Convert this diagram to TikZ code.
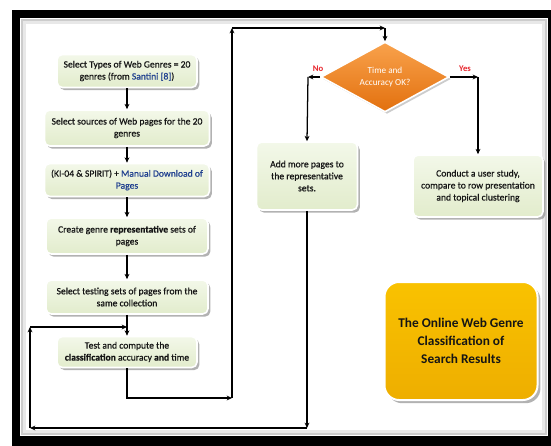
\documentclass[tikz,border=0pt]{standalone}
\usepackage{fontspec}
\setmainfont{Carlito}
\newfontfamily\semib{Carlito}[FakeBold=0.6]
\usetikzlibrary{shapes.geometric,shadows,arrows.meta}
\definecolor{gtop}{HTML}{F3F8E9}
\definecolor{gbot}{HTML}{E2ECCC}
\definecolor{txt}{HTML}{151515}
\definecolor{navy}{HTML}{1F3F8F}
\definecolor{otop}{HTML}{F9A24C}
\definecolor{obot}{HTML}{E2700E}
\definecolor{ytop}{HTML}{F9C200}
\definecolor{ybot}{HTML}{EEAE00}
\definecolor{labred}{HTML}{E8222A}
\begin{document}
\begin{tikzpicture}[x=0.75pt,y=-0.75pt,
  gbox/.style={draw=white, line width=1.2pt, rounded corners=4pt,
    top color=gtop, bottom color=gbot, text=txt,
    drop shadow={shadow xshift=1.8pt, shadow yshift=-2pt, opacity=0.6},
    font=\fontsize{7.2}{9}\semib, align=center, inner sep=1pt},
  conn/.style={line width=0.95pt, black, -{Stealth[length=4pt,width=3.6pt]}},
  lab/.style={font=\fontsize{6.5}{7}\selectfont\bfseries, text=labred, inner sep=0pt}]
\useasboundingbox (0,0) rectangle (551,446);
% frame
\fill[black] (12,10) rectangle (551,446);
\fill[white] (20,18) rectangle (548,436);
\draw[gray!40, line width=2.2pt] (22,20) rectangle (546,434);
\draw[gray!18, line width=2pt] (24.5,22.5) rectangle (543.5,431.5);

% left column
\node[gbox, minimum width=105pt, minimum height=24.75pt] (b1) at (127,71)
  {Select Types of Web Genres = 20\\genres (from {\color{navy}Santini [8]})};
\node[gbox, minimum width=123.75pt, minimum height=27pt] (b2) at (127,128)
  {Select sources of Web pages for the 20\\genres};
\node[gbox, minimum width=123.75pt, minimum height=24.75pt] (b3) at (127,180)
  {(KI-04 \& SPIRIT) + {\color{navy}Manual Download of}\\{\color{navy}Pages}};
\node[gbox, minimum width=121.5pt, minimum height=27pt] (b4) at (127,236)
  {Create genre \textbf{representative} sets of\\pages};
\node[gbox, minimum width=121.5pt, minimum height=25.5pt] (b5) at (127,297)
  {Select testing sets of pages from the\\same collection};
\node[gbox, minimum width=105pt, minimum height=23.25pt] (b6) at (127,352)
  {Test and compute the\\\textbf{classification} accuracy \textbf{and} time};

% decision
\node[diamond, draw=white, line width=1.2pt, top color=otop, bottom color=obot,
  minimum width=96pt, minimum height=52.5pt, inner sep=0pt, aspect=1.83,
  drop shadow={shadow xshift=1.5pt, shadow yshift=-1.5pt, opacity=0.4},
  text=white, align=center, font=\fontsize{6.9}{9}\selectfont] (dia) at (385,77)
  {Time and\\Accuracy OK?};

\node[gbox, minimum width=75.75pt, minimum height=51pt] (add) at (307,176)
  {Add more pages to\\the representative\\sets.};
\node[gbox, minimum width=97.5pt, minimum height=46.5pt] (cond) at (478,186)
  {Conduct a user study,\\compare to row presentation\\and topical clustering};

\node[draw=white, line width=1.5pt, rounded corners=11pt, top color=ytop, bottom color=ybot,
  minimum width=114.75pt, minimum height=88.5pt, align=center, text=txt,
  drop shadow={shadow xshift=2.2pt, shadow yshift=-2.4pt, opacity=0.6},
  font=\fontsize{10}{13.5}\selectfont\bfseries] (title) at (461,341)
  {The Online Web Genre\\Classification of\\Search Results};

\node[lab] (no) at (318,69) {No};
\node[lab] (yes) at (465,69) {Yes};

% coordinates
\coordinate (c2) at (232,398);
\coordinate (c3) at (232,28);
\coordinate (c4) at (385,28);
\coordinate (n1) at (308,77);
\coordinate (y1) at (478,77);
\coordinate (d1) at (307,428);
\coordinate (d2) at (30,428);
\coordinate (d3) at (30,327);
\coordinate (d4) at (127,327);

% connectors
\draw[conn] (b1) -- (b2);
\draw[conn] (b2) -- (b3);
\draw[conn] (b3) -- (b4);
\draw[conn] (b4) -- (b5);
\draw[conn] (b5) -- (b6);
\draw[conn] (b6) |- (c2);
\draw[conn] (c2) -- (c3);
\draw[conn] (c3) -- (c4);
\draw[conn] (c4) -- (dia.north);
\draw[conn] (dia.west) -- (n1);
\draw[conn] (n1) -- (add.north);
\draw[conn] (dia.east) -- (y1);
\draw[conn] (y1) -- (cond.north);
\draw[conn] (add.south) -- (d1);
\draw[conn] (d1) -- (d2);
\draw[conn] (d2) -- (d3);
\draw[conn] (d3) -- (d4);
\end{tikzpicture}
\end{document}
